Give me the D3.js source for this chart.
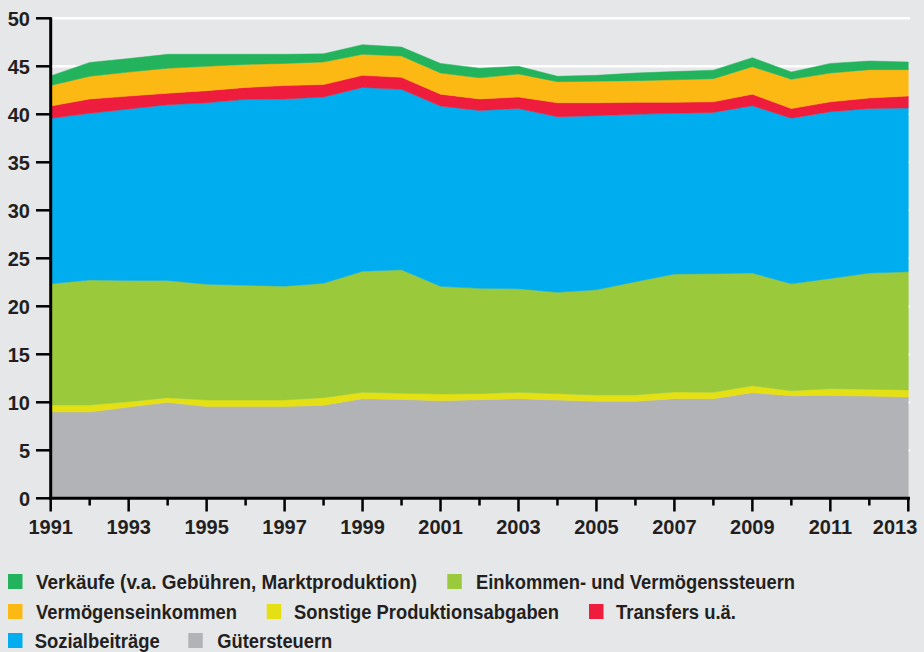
<!DOCTYPE html>
<html><head><meta charset="utf-8">
<script src="https://cdn.jsdelivr.net/npm/d3@7/dist/d3.min.js"></script>
<style>
html,body{margin:0;padding:0;background:#e6e7e9;}
svg{display:block;}
</style></head>
<body><svg id="c" width="924" height="652"></svg>
<script>
const years = d3.range(1991, 2014);
const guetersteuern = [9.0,9.0,9.5,10.0,9.55,9.55,9.55,9.7,10.38,10.3,10.17,10.27,10.38,10.24,10.1,10.1,10.38,10.38,11.0,10.69,10.72,10.65,10.55];
const sonstige = [0.72,0.72,0.56,0.48,0.69,0.69,0.69,0.78,0.66,0.64,0.69,0.63,0.66,0.66,0.66,0.66,0.69,0.66,0.72,0.51,0.7,0.7,0.73];
const einkommen = [12.62,13.02,12.64,12.22,12.06,11.96,11.86,11.92,12.61,12.86,11.22,10.97,10.8,10.56,10.97,11.8,12.29,12.36,11.75,11.15,11.48,12.12,12.32];
const sozial = [17.24,17.36,17.85,18.3,18.9,19.36,19.5,19.4,19.15,18.8,18.78,18.53,18.76,18.29,18.13,17.44,16.74,16.8,17.43,17.25,17.37,17.13,17.06];
const transfers = [1.28,1.5,1.35,1.2,1.26,1.24,1.4,1.3,1.26,1.25,1.24,1.2,1.2,1.45,1.34,1.25,1.15,1.1,1.2,1.0,1.03,1.1,1.24];
const vermoegen = [2.14,2.36,2.5,2.6,2.54,2.4,2.3,2.35,2.19,2.22,2.2,2.2,2.4,2.2,2.25,2.25,2.35,2.4,2.86,3.05,3.0,2.95,2.75];
const verkaeufe = [1.0,1.44,1.4,1.45,1.25,1.05,0.95,0.85,1.0,0.93,1.0,1.0,0.8,0.56,0.61,0.8,0.85,0.9,0.94,0.75,1.0,0.9,0.8];

const seriesDefs = [
  {key:"g", name:"Gütersteuern", values:guetersteuern, color:"#b2b3b6"},
  {key:"s", name:"Sonstige Produktionsabgaben", values:sonstige, color:"#e5e014"},
  {key:"e", name:"Einkommen- und Vermögenssteuern", values:einkommen, color:"#9aca3c"},
  {key:"z", name:"Sozialbeiträge", values:sozial, color:"#00adee"},
  {key:"t", name:"Transfers u.ä.", values:transfers, color:"#ee1c3d"},
  {key:"v", name:"Vermögenseinkommen", values:vermoegen, color:"#fdb913"},
  {key:"k", name:"Verkäufe (v.a. Gebühren, Marktproduktion)", values:verkaeufe, color:"#22b35c"}
];
const yTicks = d3.range(0, 51, 5);
const xTickYears = years;

const table = years.map((y,i)=>{const o={year:y}; seriesDefs.forEach(s=>o[s.key]=s.values[i]); return o;});
const stack = d3.stack().keys(seriesDefs.map(s=>s.key));
const stacked = stack(table);

const svg = d3.select("#c");
const x = d3.scaleLinear().domain([1991,2013]).range([50.7,908.3]);
const y = d3.scaleLinear().domain([0,50]).range([498.3,18.3]);

// gridlines
svg.append("g").selectAll("line").data(yTicks.filter(d=>d>0)).join("line")
  .attr("x1",x(1991)).attr("x2",910).attr("y1",d=>y(d)).attr("y2",d=>y(d))
  .attr("stroke","#ffffff").attr("stroke-width",2.5);

const area = d3.area().x(d=>x(d.data.year)).y0(d=>y(d[0])).y1(d=>y(d[1]));
svg.append("g").selectAll("path").data(stacked).join("path")
  .attr("d",area).attr("fill",(d,i)=>seriesDefs[i].color)
  .attr("stroke",(d,i)=>seriesDefs[i].color).attr("stroke-width",0.5);

const tickFont = "'Liberation Sans', Arial, sans-serif";
// y axis
const yAxis = svg.append("g");
yAxis.append("line").attr("x1",x(1991)).attr("x2",x(1991)).attr("y1",y(50)-1).attr("y2",y(0)+1.5)
  .attr("stroke","#000").attr("stroke-width",3);
yAxis.selectAll("line.t").data(yTicks).join("line").attr("class","t")
  .attr("x1",36).attr("x2",x(1991)).attr("y1",d=>y(d)).attr("y2",d=>y(d))
  .attr("stroke","#000").attr("stroke-width",2.5);
yAxis.selectAll("text").data(yTicks).join("text")
  .attr("x",30).attr("y",d=>y(d)+7.2).attr("text-anchor","end")
  .attr("font-family",tickFont).attr("font-weight","bold").attr("font-size",20)
  .attr("fill","#231f20").text(d=>d);

// x axis
const xAxis = svg.append("g");
xAxis.append("line").attr("x1",x(1991)-1.5).attr("x2",910).attr("y1",y(0)).attr("y2",y(0))
  .attr("stroke","#000").attr("stroke-width",3);
xAxis.selectAll("line.t").data(xTickYears).join("line").attr("class","t")
  .attr("x1",d=>x(d)).attr("x2",d=>x(d)).attr("y1",y(0))
  .attr("y2",d=>(d%2===1)?511.5:505.5)
  .attr("stroke","#000").attr("stroke-width",2.5);
xAxis.selectAll("text").data(xTickYears.filter(d=>d%2===1)).join("text")
  .attr("x",d=>d===2013 ? x(d)+9 : x(d)).attr("y",534)
  .attr("text-anchor",d=>d===2013 ? "end" : "middle")
  .attr("font-family",tickFont).attr("font-weight","bold").attr("font-size",20)
  .attr("fill","#231f20").text(d=>d);

// legend
const legendItems = [
  {k:"k", sx:8, tx:36, ry:589, w:381},
  {k:"e", sx:447.3, tx:476, ry:589, w:319},
  {k:"v", sx:8, tx:36, ry:619, w:201},
  {k:"s", sx:266.7, tx:294, ry:619, w:265},
  {k:"t", sx:589, tx:616, ry:619, w:120},
  {k:"z", sx:8, tx:34.7, ry:648, w:125},
  {k:"g", sx:188.3, tx:217.3, ry:648, w:115}
];
const lg = svg.append("g");
legendItems.forEach(it=>{
  const s = seriesDefs.find(d=>d.key===it.k);
  lg.append("rect").attr("x",it.sx).attr("y",it.ry-15).attr("width",14.5).attr("height",15).attr("fill",s.color);
  lg.append("text").attr("x",it.tx).attr("y",it.ry)
    .attr("font-family","'Liberation Sans', Arial, sans-serif")
    .attr("font-weight","bold").attr("font-size",19.5).attr("fill","#231f20")
    .attr("textLength",it.w).attr("lengthAdjust","spacingAndGlyphs").text(s.name);
});
</script></body></html>
